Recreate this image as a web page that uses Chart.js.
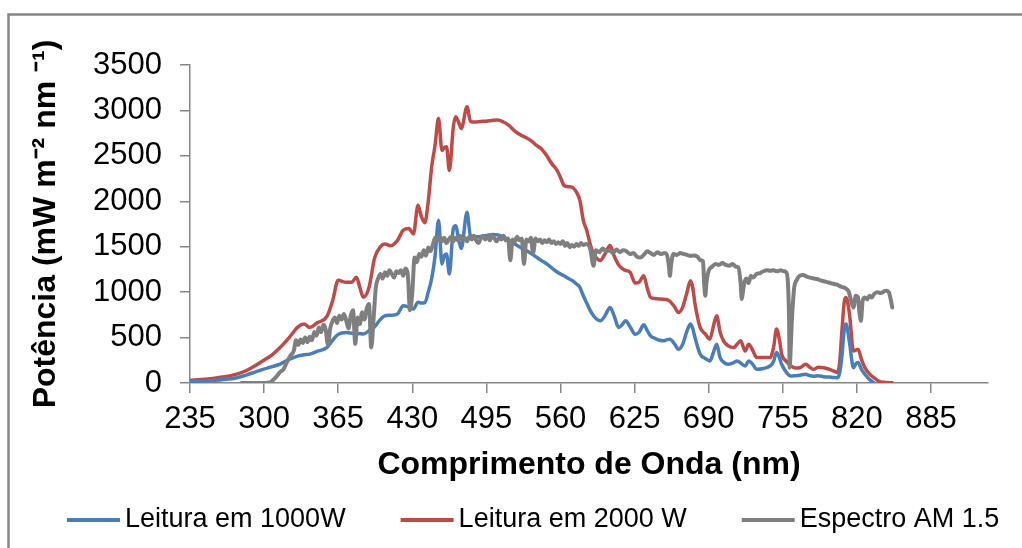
<!DOCTYPE html>
<html lang="pt">
<head>
<meta charset="utf-8">
<title>Potência espectral</title>
<script src="https://cdn.jsdelivr.net/npm/chart.js@4.4.1/dist/chart.umd.min.js"></script>
<style>
  html, body { margin: 0; padding: 0; background: #fff; }
  canvas { display: block; }
</style>
</head>
<body>
<canvas id="chart" width="1022" height="548"></canvas>
<script>
// wavelengths (nm) shared by both lamp readings
const lampWl = [
  235, 245, 255, 265, 276, 285, 292, 299, 307, 314,
  322, 330, 335, 340, 347, 355, 360, 365, 372, 377,
  381, 384, 387, 392, 397, 402, 406, 411, 417, 422,
  427, 431, 435, 438, 441, 444, 447, 450, 453, 456,
  458, 460, 462.5, 466, 468, 471, 473, 478, 481, 485,
  490, 495, 501, 505, 510, 515, 520, 525, 530, 535,
  539, 543, 548, 552, 557, 560, 563, 567, 570, 574,
  577, 580, 583, 586, 589, 592, 595, 599, 603.5, 607,
  611, 614, 617, 621, 625.5, 629, 633, 636, 639, 643,
  647, 650, 653, 656, 660, 663.5, 667, 671, 674, 676,
  678, 682.5, 687, 691, 694, 697, 700, 703, 707, 712,
  715, 718, 722, 725, 729, 732, 738, 744, 747, 749.5,
  752, 754, 758, 762, 766, 770, 775, 779, 782, 786,
  791, 796, 800, 803, 805, 807, 809, 810.5, 813.5, 817,
  819, 821, 824, 827, 831, 835, 840, 845, 851
];
// mW m-2 nm-1
const leitura1000 = [
  20, 22, 28, 38, 58, 90, 120, 150, 180, 208,
  260, 298, 310, 318, 350, 390, 470, 535, 555, 548,
  540, 545, 538, 575, 620, 700, 740, 745, 760, 850,
  835, 815, 890, 880, 885, 1000, 1150, 1400, 1790, 1310,
  1400, 1420, 1200, 1700, 1730, 1560, 1480, 1880, 1620, 1610,
  1612, 1625, 1635, 1630, 1605, 1570, 1530, 1492, 1457, 1420,
  1385, 1350, 1310, 1270, 1222, 1200, 1180, 1150, 1130, 1090,
  1052, 960, 880, 800, 740, 700, 684, 740, 831, 740,
  611, 640, 684, 620, 537, 560, 640, 580, 519, 490,
  470, 464, 475, 482, 430, 372, 420, 574, 648, 600,
  500, 317, 270, 243, 330, 427, 280, 230, 206, 225,
  243, 220, 188, 243, 200, 151, 160, 188, 240, 335,
  280, 206, 120, 77, 80, 85, 96, 80, 75, 80,
  70, 65, 60, 59, 120, 317, 600, 648, 445, 169,
  210, 225, 150, 96, 40, 3, null, null, null
];
const leitura2000 = [
  30, 38, 50, 68, 98, 140, 190, 245, 310, 390,
  500, 620, 650, 612, 665, 730, 900, 1130, 1108, 1110,
  1165, 1050, 945, 1052, 1380, 1500, 1530, 1510, 1570, 1680,
  1700, 1640, 1955, 1830, 1765, 2000, 2380, 2620, 2915, 2560,
  2590, 2600, 2340, 2820, 2930, 2860, 2800, 3040, 2880, 2872,
  2878, 2882, 2892, 2895, 2872, 2832, 2772, 2730, 2700, 2660,
  2615, 2580, 2500, 2420, 2340, 2262, 2175, 2160, 2156, 2100,
  2010, 1790, 1680, 1530, 1420, 1370, 1347, 1420, 1512, 1400,
  1300, 1262, 1240, 1220, 1100, 1110, 1181, 1050, 942, 930,
  924, 922, 920, 900, 840, 776, 830, 1000, 1126, 1050,
  869, 611, 540, 482, 620, 740, 560, 464, 410, 390,
  430, 464, 353, 427, 350, 280, 282, 280, 400, 593,
  480, 317, 240, 188, 165, 168, 206, 170, 150, 172,
  169, 150, 130, 114, 243, 600, 900, 942, 758, 353,
  362, 372, 260, 169, 100, 59, 15, 6, 3
];

// AM 1.5 reference spectrum
const am15Wl = [
  280, 290, 300, 305, 310, 314, 317, 320, 323, 326,
  328, 330, 332, 334, 336, 338, 340, 342, 344, 346,
  348, 350, 352, 354, 356, 358, 360, 362, 364, 366,
  368, 370, 372, 374, 376, 378, 380, 382, 384, 386,
  388, 390, 392, 394, 396, 398, 400, 402, 404, 406,
  408, 410, 412, 414, 416, 418, 420, 422, 424, 426,
  428, 430, 432, 434, 436, 438, 440, 442, 444, 446,
  448, 450, 452, 454, 456, 458, 460, 462, 464, 466,
  468, 470, 472, 474, 476, 478, 480, 482, 484, 486,
  488, 490, 492, 494, 496, 498, 500, 502, 504, 506,
  508, 510, 512, 514, 516, 518, 520, 522, 524, 526,
  528, 530, 532, 534, 536, 538, 540, 542, 544, 546,
  548, 550, 552, 554, 556, 558, 560, 562, 564, 566,
  568, 570, 572, 574, 576, 578, 580, 583, 586, 589,
  591, 594, 597, 600, 603, 606, 609, 612, 615, 618,
  621, 624, 627, 630, 633, 636, 639, 642, 645, 648,
  651, 653, 655, 656, 657, 659, 662, 665, 668, 671,
  674, 677, 680, 683, 685, 686, 687, 688, 690, 693,
  696, 699, 702, 705, 708, 711, 714, 716, 718, 719,
  720, 721, 723, 725, 727, 729, 732, 735, 738, 741,
  744, 747, 750, 753, 756, 758, 759.5, 760.5, 761, 762,
  763, 764, 765, 767, 770, 773, 776, 779, 782, 785,
  788, 791, 794, 797, 800, 803, 806, 809, 811, 813,
  815, 817, 819, 821, 822, 823.5, 825, 827, 829, 831,
  833, 835, 838, 841, 844, 846, 848, 850, 851
];
const am15 = [
  0, 0, 0, 5, 60, 120, 150, 230, 300, 353,
  470, 420, 480, 440, 500, 450, 510, 470, 560, 520,
  610, 560, 640, 590, 420, 600, 680, 720, 660, 740,
  700, 760, 690, 600, 740, 800, 430, 720, 650, 780,
  700, 820, 870, 390, 700, 1050, 1150, 1200, 1150, 1220,
  1180, 1240, 1200, 1160, 1230, 1210, 1240, 1180, 1260, 1200,
  800, 1000, 1380, 1330, 1420, 1390, 1460, 1400, 1490, 1450,
  1520, 1600, 1570, 1610, 1560, 1600, 1540, 1580, 1610, 1560,
  1600, 1570, 1620, 1580, 1600, 1560, 1610, 1580, 1620, 1570,
  1540, 1590, 1620, 1580, 1610, 1570, 1630, 1590, 1560, 1600,
  1580, 1620, 1570, 1590, 1350, 1580, 1560, 1610, 1570, 1590,
  1310, 1580, 1560, 1600, 1430, 1590, 1560, 1580, 1540, 1570,
  1550, 1580, 1540, 1560, 1530, 1550, 1531, 1560, 1510, 1540,
  1494, 1520, 1500, 1530, 1510, 1540, 1520, 1531, 1480, 1290,
  1460, 1440, 1480, 1450, 1460, 1430, 1470, 1440, 1460, 1450,
  1420, 1430, 1390, 1380, 1410, 1450, 1430, 1410, 1440, 1420,
  1430, 1420, 1300, 1180, 1300, 1420, 1410, 1430, 1420, 1410,
  1400, 1402, 1390, 1350, 1340, 1100, 960, 1100, 1236, 1280,
  1310, 1300, 1320, 1300, 1290, 1310, 1280, 1273, 1100, 924,
  1000, 1089, 1150, 1100, 1180, 1160, 1200, 1210, 1230, 1240,
  1236, 1240, 1230, 1240, 1230, 1218, 1100, 700, 169, 400,
  700, 900, 1052, 1130, 1181, 1190, 1170, 1160, 1150, 1145,
  1130, 1120, 1110, 1100, 1089, 1080, 1060, 1050, 1034, 1000,
  900, 831, 960, 942, 800, 684, 900, 942, 920, 960,
  940, 979, 1000, 990, 1010, 1016, 1000, 900, 831
];

const xTicks = [235, 300, 365, 430, 495, 560, 625, 690, 755, 820, 885];
const yTicks = [0, 500, 1000, 1500, 2000, 2500, 3000, 3500];

const AXIS = '#868686';
const FONT = "'Liberation Sans', Arial, sans-serif";

const toPoints = (xs, ys) => xs.map((x, i) => ({ x: x, y: ys[i] }));

// white background plus the grey frame on the top and left edges
const frame = {
  id: 'frame',
  beforeDraw(chart) {
    const c = chart.ctx;
    c.save();
    c.fillStyle = '#fff';
    c.fillRect(0, 0, chart.width, chart.height);
    c.strokeStyle = AXIS;
    c.lineWidth = 2.5;
    c.beginPath();
    c.moveTo(8.5, chart.height);
    c.lineTo(8.5, 14.5);
    c.lineTo(chart.width, 14.5);
    c.stroke();
    c.restore();
  }
};

// legend row: short line sample followed by the series name
const lineLegend = {
  id: 'lineLegend',
  afterDraw(chart) {
    const c = chart.ctx;
    c.save();
    c.font = '27px ' + FONT;
    c.textBaseline = 'middle';
    let x = 67;
    const y = 520;
    chart.data.datasets.forEach(ds => {
      c.strokeStyle = ds.borderColor;
      c.lineWidth = 4;
      c.beginPath();
      c.moveTo(x, y);
      c.lineTo(x + 53, y);
      c.stroke();
      c.fillStyle = '#000';
      c.fillText(ds.label, x + 58, y);
      x += 58 + c.measureText(ds.label).width + 55;
    });
    c.restore();
  }
};

const lineStyle = { borderWidth: 3.5, pointRadius: 0, fill: false, cubicInterpolationMode: 'monotone', borderJoinStyle: 'round', borderCapStyle: 'round', spanGaps: false };

const tickFont = { family: FONT, size: 31 };
const titleFont = { family: FONT, size: 32, weight: 'bold' };

new Chart(document.getElementById('chart').getContext('2d'), {
  type: 'line',
  data: {
    datasets: [
      { ...lineStyle, label: 'Leitura em 1000W', data: toPoints(lampWl, leitura1000), borderColor: '#4A7EBB', order: 1 },
      { ...lineStyle, label: 'Leitura em 2000 W', data: toPoints(lampWl, leitura2000), borderColor: '#BE4B48', order: 2 },
      { ...lineStyle, label: 'Espectro AM 1.5', data: toPoints(am15Wl, am15), borderColor: '#7F7F7F', borderWidth: 4, order: 0 }
    ]
  },
  options: {
    responsive: false,
    animation: false,
    devicePixelRatio: 1,
    layout: { padding: { top: 65, right: 34, bottom: 63.4, left: 0 } },
    plugins: { legend: { display: false }, tooltip: { enabled: false } },
    scales: {
      x: {
        type: 'linear',
        min: 235,
        max: 935,
        afterBuildTicks: s => { s.ticks = xTicks.map(v => ({ value: v })); },
        grid: { drawOnChartArea: false, tickLength: 10, color: AXIS, lineWidth: 1.5 },
        border: { color: AXIS, width: 1.5 },
        ticks: { color: '#000', font: tickFont, padding: 8, maxRotation: 0, autoSkip: false, callback: v => String(v) },
        title: { display: true, text: 'Comprimento de Onda (nm)', color: '#000', font: titleFont, padding: { top: 0, bottom: 0 } }
      },
      y: {
        min: 0,
        max: 3500,
        afterBuildTicks: s => { s.ticks = yTicks.map(v => ({ value: v })); },
        afterFit: s => { s.width = 190; },
        grid: { drawOnChartArea: false, tickLength: 10, color: AXIS, lineWidth: 1.5 },
        border: { color: AXIS, width: 1.5 },
        ticks: { color: '#000', font: tickFont, padding: 18, callback: v => String(v) },
        title: { display: true, text: 'Potência (mW m⁻² nm ⁻¹)', color: '#000', font: titleFont, padding: { top: 27, bottom: 0 } }
      }
    }
  },
  plugins: [frame, lineLegend]
});
</script>
</body>
</html>
